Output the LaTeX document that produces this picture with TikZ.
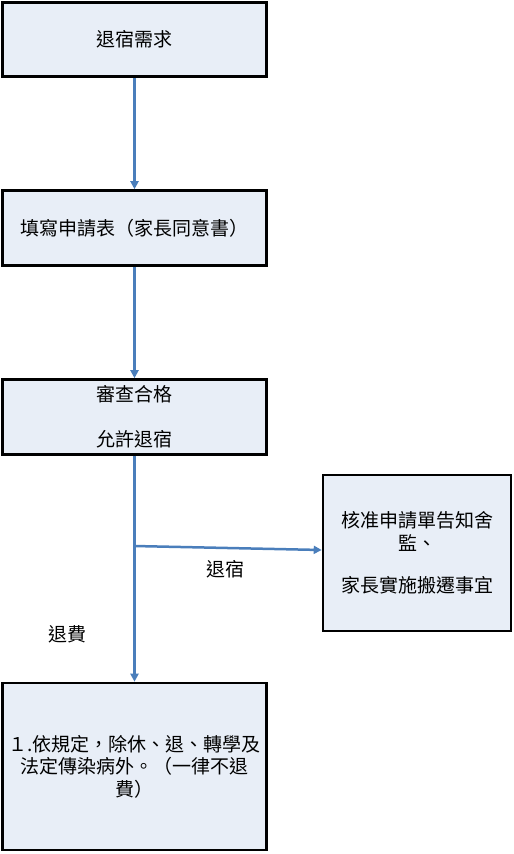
\documentclass[tikz,border=0pt]{standalone}
\usepackage{fontspec}
\setmainfont{Noto Sans CJK TC}
\usetikzlibrary{arrows.meta}
\definecolor{boxfill}{HTML}{E8EEF7}
\definecolor{flowblue}{HTML}{4A7EBB}
\tikzset{
  flowbox/.style={draw=black, line width=2.6pt, fill=boxfill, inner sep=0pt, align=center,
    font=\fontsize{19}{22.5}\selectfont},
  flowarrow/.style={draw=flowblue, line width=2.5pt, -{Triangle[width=8pt,length=8pt]}},
  flowlabel/.style={inner sep=0pt, font=\fontsize{19}{22.5}\selectfont}
}
\begin{document}
\begin{tikzpicture}[x=1pt,y=-1pt]
\useasboundingbox (0,0) rectangle (514,854);
\node[flowbox, minimum width=264pt, minimum height=74pt] (b1) at (134.5,39.5) {退宿需求};
\node[flowbox, minimum width=264pt, minimum height=75pt] (b2) at (134.5,228) {填寫申請表（家長同意書）};
\node[flowbox, minimum width=264pt, minimum height=75pt] (b3) at (134.5,417) {審查合格\\[22.5pt]允許退宿};
\node[flowbox, minimum width=188pt, minimum height=156pt] (b4) at (417,553) {核准申請單告知舍\\監、\\[20pt]家長實施搬遷事宜};
\node[flowbox, minimum width=264pt, minimum height=167pt, text width=255pt] (b5) at (134.5,766.5) {１.依規定，除休、退、轉學及\\法定傳染病外。（一律不退\\費）};
\coordinate (split) at (134,546);
\draw[flowarrow] (b1.south) -- (b2.north);
\draw[flowarrow] (b2.south) -- (b3.north);
\draw[flowarrow] (b3.south) -- (b5.north);
\draw[flowarrow] (split) -- ([yshift=3pt]b4.west);
\node[flowlabel] (l1) at (225,569) {退宿};
\node[flowlabel] (l2) at (67,634) {退費};
\end{tikzpicture}
\end{document}
